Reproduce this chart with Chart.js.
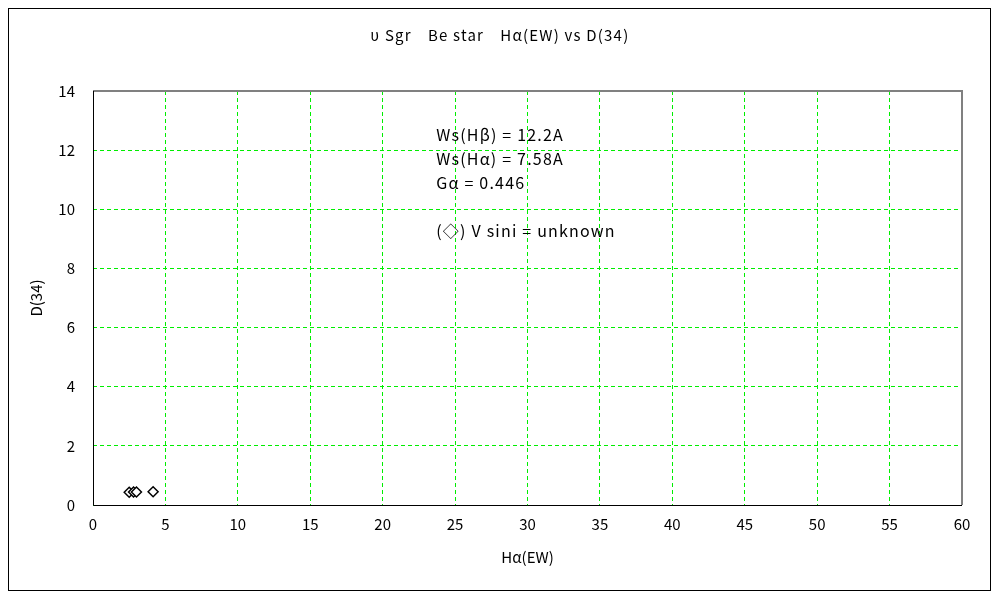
<!DOCTYPE html>
<html>
<head>
  <meta charset="UTF-8">
  <title>υ Sgr Be star Hα(EW) vs D(34)</title>
  <script src="https://cdn.jsdelivr.net/npm/chart.js"></script>
  <style>
    html, body { margin: 0; padding: 0; background: #fff; }
    #wrap { width: 1000px; height: 600px; }
  </style>
</head>
<body>
  <div id="wrap"><canvas id="grafico"></canvas></div>

  <script>
    // datos
    const haEW = [2.5, 2.8, 3.0, 4.15];
    const d34 = [0.43, 0.44, 0.44, 0.45];

    const titulo = 'υ Sgr　Be star　Hα(EW) vs D(34)';
    const notas = ['Ws(Hβ) = 12.2A', 'Ws(Hα) = 7.58A', 'Gα = 0.446', '', '(◇) V sini = unknown'];
    const notaPos = { x: 23.7, y: 12.5 };

    const fuente = '"Noto Sans CJK JP", "Noto Sans", sans-serif';

    // marco exterior, titulo, borde del area y notas
    const decoracion = {
      id: 'decoracion',
      beforeDraw(chart) {
        const c = chart.ctx;
        c.save();
        c.fillStyle = '#fff';
        c.fillRect(0, 0, chart.width, chart.height);
        c.strokeStyle = '#000';
        c.lineWidth = 1;
        c.strokeRect(8.5, 8.5, 982, 582);
        c.fillStyle = '#000';
        c.font = '15px ' + fuente;
        c.letterSpacing = '1.2px';
        c.textAlign = 'center';
        c.textBaseline = 'middle';
        c.fillText(titulo, 500, 35);
        c.restore();
      },
      afterDatasetsDraw(chart) {
        const c = chart.ctx;
        const a = chart.chartArea;
        c.save();
        c.strokeStyle = '#808080';
        c.lineWidth = 2;
        c.beginPath();
        c.moveTo(a.left, a.top);
        c.lineTo(a.right, a.top);
        c.lineTo(a.right, a.bottom);
        c.stroke();
        c.strokeStyle = '#000';
        c.lineWidth = 1;
        c.beginPath();
        c.moveTo(a.left + 0.5, a.top);
        c.lineTo(a.left + 0.5, a.bottom + 0.5);
        c.lineTo(a.right, a.bottom + 0.5);
        c.stroke();

        const px = chart.scales.x.getPixelForValue(notaPos.x);
        const py = chart.scales.y.getPixelForValue(notaPos.y);
        c.fillStyle = '#000';
        c.font = '16px ' + fuente;
        c.letterSpacing = '1.2px';
        c.textAlign = 'left';
        c.textBaseline = 'middle';
        notas.forEach((t, i) => c.fillText(t, px, py + i * 24));
        c.restore();
      }
    };

    const rejilla = {
      color: '#00ee00',
      lineWidth: 1,
      drawTicks: false
    };

    new Chart(document.getElementById('grafico'), {
      type: 'scatter',
      data: {
        datasets: [{
          data: haEW.map((x, i) => ({ x: x, y: d34[i] })),
          pointStyle: 'rectRot',
          pointRadius: 5,
          pointBackgroundColor: '#fff',
          pointBorderColor: '#000',
          pointBorderWidth: 1.5
        }]
      },
      options: {
        responsive: true,
        maintainAspectRatio: false,
        animation: false,
        layout: { padding: { top: 91, right: 38, left: 0, bottom: 0 } },
        plugins: { legend: { display: false }, tooltip: { enabled: false } },
        scales: {
          x: {
            type: 'linear', min: 0, max: 60,
            grid: rejilla,
            border: { display: false, dash: [4, 3] },
            ticks: { stepSize: 5, padding: 10, color: '#000', font: { family: fuente, size: 15 } },
            title: { display: true, text: 'Hα(EW)', color: '#000', font: { family: fuente, size: 15 }, padding: { top: 0, bottom: 34 } },
            afterFit(s) { s.height = 95; }
          },
          y: {
            type: 'linear', min: 0, max: 14,
            grid: rejilla,
            border: { display: false, dash: [4, 3] },
            ticks: { stepSize: 2, padding: 18, color: '#000', font: { family: fuente, size: 15 } },
            title: { display: true, text: 'D(34)', color: '#000', font: { family: fuente, size: 15 }, padding: { top: 27, bottom: 0 } },
            afterFit(s) { s.width = 93; }
          }
        }
      },
      plugins: [decoracion]
    });
  </script>
</body>
</html>
